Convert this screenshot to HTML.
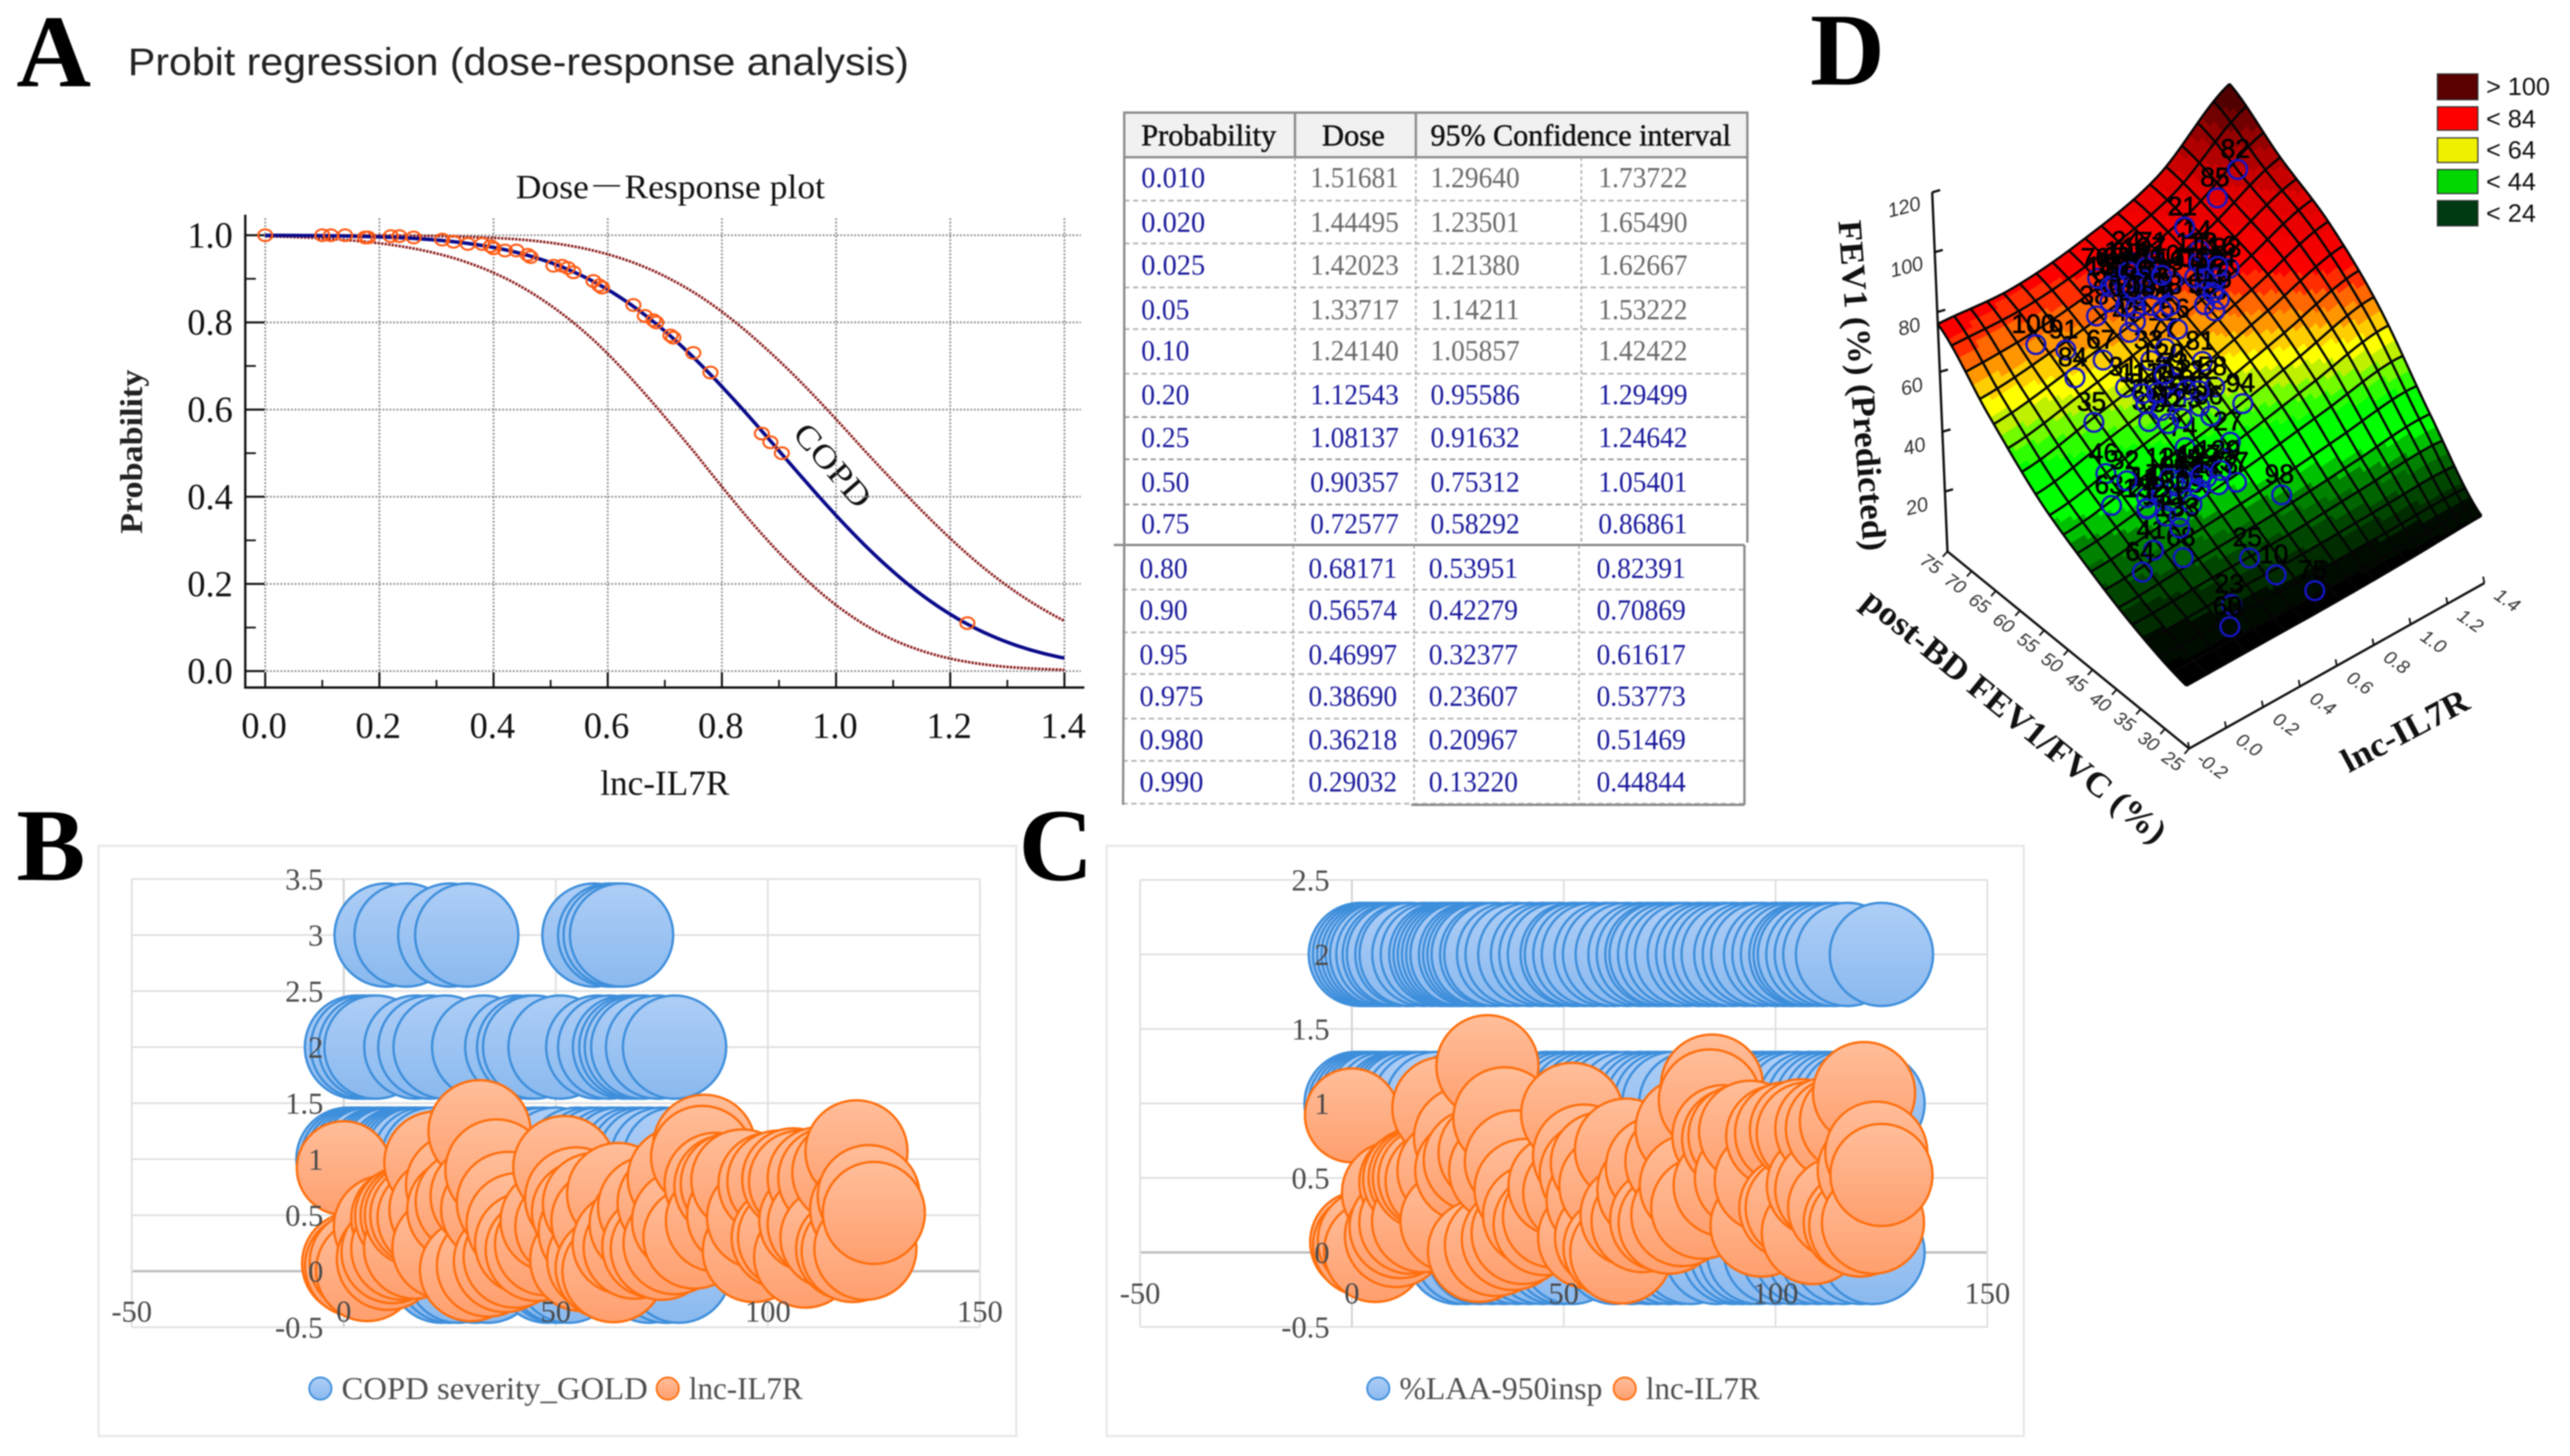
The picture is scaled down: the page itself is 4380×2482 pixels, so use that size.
<!DOCTYPE html>
<html lang="en">
<head>
<meta charset="utf-8">
<title>COPD lnc-IL7R composite figure</title>
<style>
html,body{margin:0;padding:0;background:#fff;}
#figure{display:block;width:4380px;height:2482px;filter:blur(1px);}
text{font-family:"Liberation Serif","Noto Serif CJK SC",serif;}
.sans{font-family:"Liberation Sans","DejaVu Sans",sans-serif;}
</style>
</head>
<body>
<svg id="figure" xmlns="http://www.w3.org/2000/svg" width="4380" height="2482" viewBox="0 0 4380 2482">
  <defs>
    <linearGradient id="blueFill" x1="0" y1="0" x2="0" y2="1"><stop offset="0" stop-color="#aeceF6"/><stop offset="1" stop-color="#8ab9ef"/></linearGradient>
    <linearGradient id="orangeFill" x1="0" y1="0" x2="0" y2="1"><stop offset="0" stop-color="#ffbe9a"/><stop offset="1" stop-color="#ff9f6e"/></linearGradient>
    <clipPath id="doseClip"><rect x="418" y="366" width="1396" height="806"/></clipPath>
  </defs>
  <rect width="4380" height="2482" fill="#fff"/>

  <text x="28" y="147" font-size="176" font-weight="bold" fill="#000">A</text>
  <text x="28" y="1500" font-size="176" font-weight="bold" fill="#000">B</text>
  <text x="1736" y="1500" font-size="176" font-weight="bold" fill="#000">C</text>
  <text x="3085" y="144" font-size="176" font-weight="bold" fill="#000">D</text>
  <text class="sans" x="218" y="128" font-size="66" fill="#222" textLength="1331" lengthAdjust="spacingAndGlyphs">Probit regression (dose-response analysis)</text>

  <g id="doseChart">
    <text x="879" y="338" font-size="58" fill="#111" textLength="527" lengthAdjust="spacingAndGlyphs">Dose－Response plot</text>
    <text transform="translate(242 770) rotate(-90)" text-anchor="middle" font-size="54" font-weight="bold" fill="#222" textLength="280" lengthAdjust="spacingAndGlyphs">Probability</text>
    <text x="1023" y="1355" font-size="60" fill="#111" textLength="220" lengthAdjust="spacingAndGlyphs">lnc-IL7R</text>
    <text transform="translate(1349 741) rotate(49)" y="0" font-size="56" fill="#111" textLength="171" lengthAdjust="spacingAndGlyphs">COPD</text>
  </g>

  <g id="doseTable"></g>

  <g id="bubbleB"></g>
  <g id="bubbleC"></g>

  <g id="surfaceChart">
    <text transform="translate(3133 377) rotate(85.6)" font-size="58" font-weight="bold" fill="#111" textLength="565" lengthAdjust="spacingAndGlyphs">FEV1 (%) (Predicted)</text>
    <text transform="translate(3170 1030) rotate(39.2)" font-size="58" font-weight="bold" fill="#111" textLength="649" lengthAdjust="spacingAndGlyphs">post-BD FEV1/FVC (%)</text>
    <text transform="translate(4003 1318) rotate(-28)" font-size="58" font-weight="bold" fill="#111" textLength="237" lengthAdjust="spacingAndGlyphs">lnc-IL7R</text>
  </g>

  <g>
    <rect x="4154" y="126" width="69" height="44" fill="#5a0000" stroke="#333" stroke-width="2"/>
    <rect x="4154" y="182" width="69" height="40" fill="#ff0000" stroke="#333" stroke-width="2"/>
    <rect x="4154" y="235" width="69" height="42" fill="#eef000" stroke="#333" stroke-width="2"/>
    <rect x="4154" y="289" width="69" height="41" fill="#00d800" stroke="#333" stroke-width="2"/>
    <rect x="4154" y="342" width="69" height="43" fill="#003a12" stroke="#333" stroke-width="2"/>
    <text class="sans" x="4237" y="162" font-size="43" fill="#111">&gt; 100</text>
    <text class="sans" x="4237" y="217" font-size="43" fill="#111">&lt; 84</text>
    <text class="sans" x="4237" y="270" font-size="43" fill="#111">&lt; 64</text>
    <text class="sans" x="4237" y="324" font-size="43" fill="#111">&lt; 44</text>
    <text class="sans" x="4237" y="378" font-size="43" fill="#111">&lt; 24</text>
  </g>
</svg>

<script>
/* ---------- Panel A + table data ---------- */
const tableProbabilityLabels = ["0.010","0.020","0.025","0.05","0.10","0.20","0.25","0.50","0.75","0.80","0.90","0.95","0.975","0.980","0.990"];
const tableDose  = [1.51681,1.44495,1.42023,1.33717,1.24140,1.12543,1.08137,0.90357,0.72577,0.68171,0.56574,0.46997,0.38690,0.36218,0.29032];
const tableLower = [1.29640,1.23501,1.21380,1.14211,1.05857,0.95586,0.91632,0.75312,0.58292,0.53951,0.42279,0.32377,0.23607,0.20967,0.13220];
const tableUpper = [1.73722,1.65490,1.62667,1.53222,1.42422,1.29499,1.24642,1.05401,0.86861,0.82391,0.70869,0.61617,0.53773,0.51469,0.44844];
const meanHeadDose  = [0,0.1,0.2];
const meanHeadProb  = [0.9997,0.9989,0.9962];
const lowerHeadDose = [0,0.1];
const lowerHeadProb = [0.9976,0.9929];
const upperHeadDose = [0,0.2,0.35];
const upperHeadProb = [0.99997,0.9995,0.9965];
const lowerTailDose = [1.4];
const lowerTailProb = [0.003];
const sampleDose = [0,0.1,0.115,0.14,0.175,0.18,0.22,0.235,0.26,0.31,0.33,0.355,0.38,0.395,0.40,0.42,0.44,0.46,0.465,0.505,0.52,0.53,0.54,0.575,0.585,0.59,0.645,0.665,0.68,0.685,0.71,0.715,0.75,0.78,0.87,0.885,0.905,1.23];
const sampleProb = [1,1,1,1,0.995,0.995,0.998,0.998,0.995,0.99,0.985,0.98,0.98,0.975,0.97,0.965,0.965,0.955,0.95,0.93,0.93,0.925,0.915,0.895,0.885,0.88,0.84,0.815,0.805,0.8,0.77,0.765,0.73,0.685,0.545,0.525,0.5,0.11];
const doseXTicks = [0,0.2,0.4,0.6,0.8,1.0,1.2,1.4];
const doseYTicks = [0,0.2,0.4,0.6,0.8,1.0];
const doseMinorXTicks = [0.1,0.3,0.5,0.7,0.9,1.1,1.3];
const doseMinorYTicks = [0.1,0.3,0.5,0.7,0.9];

/* ---------- Panels B + C data ---------- */
const orangeX = [0,2.2,2.9,4,5.5,9.7,10.4,11.5,13.8,13.8,14.7,16,16.8,17,18.3,20,21.6,22.8,23.5,26.7,27,29,30,32,32.5,34,35,36,38,38.7,40.3,41,43,45.5,47.7,49,52,52.5,54.8,56,56.4,58,59,60,61,62,63.6,64.7,66,68.6,70,72,73,75,76.6,78,79,80,82.7,85,84.5,87.7,88,90,91.5,93,94,96.7,97.7,100.4,102.5,103.5,105,106,107.6,108.8,110,112,112,114.5,115,117.8,118.7,120,120.9,122,123,123.8,125];
const orangeY = [0.92,0.07,0.05,0.08,0.01,0.40,0.11,0.17,0.47,0.2,0.49,0.5,0.21,0.5,0.5,0.48,0.97,0.55,0.21,0.77,0.55,0.62,0.01,1.25,0.67,0.05,0.55,0.9,0.09,0.61,0.13,0.42,0.25,0.19,0.24,0.45,0.93,0.4,0.65,0.1,0.53,0.35,0.6,0.1,0.45,0.03,0,0.69,0.25,0.21,0.42,0.57,0.22,0.2,0.61,0.25,0.83,0.45,0.3,1.12,1.02,0.78,0.45,0.76,0.78,0.5,0.81,0.18,0.48,0.78,0.8,0.3,0.3,0.82,0.8,0.13,0.45,0.83,0.42,0.83,0.3,0.88,0.2,0.18,1.07,0.55,0.2,0.67,0.52];

const goldX = [10,14.7,25,29,59,62.7,64,65.5, 3,4.4,6.2,7.6,17,20.3,23.9,33,40.8,43.6,45,51,59.9,62.7,66.2,67.7,69,70.5,74,78, 1,2,3,4,5,6,8,9,10,11,13,14,15,16,17,19,21,25,30,38,42,45,47,50,55,58,60,63,65,68,70,72,75,78, 23,25,27,31,34,48,50,51,53,72,76,79];
const goldY = [3,3,3,3,3,3,3,3, 2,2,2,2,2,2,2,2,2,2,2,2,2,2,2,2,2,2,2,2, 1,1,1,1,1,1,1,1,1,1,1,1,1,1,1,1,1,1,1,1,1,1,1,1,1,1,1,1,1,1,1,1,1,1, 0,0,0,0,0,0,0,0,0,0,0,0];
const laaX = [2,3,4,5,6,7,8.5,10,11,13,14,17,19,21,22,23,24,25,26,28,29,30,31,33,34,37,39,42,45,47,49,52,53,55,57,60,62,65,68,70,72,73,75,77,79,82,84,86,88,90,93,95,97,100,102,104,106,107,108,110,112,114,117,125, 1,2,3,4,5,6,8,10,11,12,13,15,17,20,25,35,46,48,50,52,54,56,58,60,62,65,68,70,72,74,76,80,85,90,95,97,99,101,103,105,108,110,112,114,116,118,120,122,123, 25,27,30,33,36,39,42,45,48,50,52,62,66,70,72,75,78,80,86,90,92,94,96,100,104,107,110,113,116,120,123];
const laaY = [2,2,2,2,2,2,2,2,2,2,2,2,2,2,2,2,2,2,2,2,2,2,2,2,2,2,2,2,2,2,2,2,2,2,2,2,2,2,2,2,2,2,2,2,2,2,2,2,2,2,2,2,2,2,2,2,2,2,2,2,2,2,2,2, 1,1,1,1,1,1,1,1,1,1,1,1,1,1,1,1,1,1,1,1,1,1,1,1,1,1,1,1,1,1,1,1,1,1,1,1,1,1,1,1,1,1,1,1,1,1,1,1,1, 0,0,0,0,0,0,0,0,0,0,0,0,0,0,0,0,0,0,0,0,0,0,0,0,0,0,0,0,0,0,0];
const bubbleXTicks = [-50,0,50,100,150];
const goldYTicks = [-0.5,0,0.5,1,1.5,2,2.5,3,3.5];
const laaYTicks = [-0.5,0,0.5,1,1.5,2,2.5];

/* ---------- Panel D data ---------- */
const lncLevels = [-0.2,0.2,0.6,1.0,1.4];
const fvcLevels = [75,65,55,45,35,25];
const fevRow75 = [76,74,77,84,101];
const fevRow65 = [59,64,70,78,90];
const fevRow55 = [44,52,60,70,81];
const fevRow45 = [34,40,47,56,66];
const fevRow35 = [26,29,32,37,43];
const fevRow25 = [21,21,21,21.5,22.5];
const zTicks = [20,40,60,80,100,120];
const fvcTicks = [75,70,65,60,55,50,45,40,35,30,25];
const lncTicks = [-0.2,0,0.2,0.4,0.6,0.8,1.0,1.2,1.4];
const pointLnc = [0.14,0.236,0.428,0.201,0.342,0.165,0.091,0.037,0.153,0.074,-0.02,0.246,0.16,0.425,0.42,0.357,0.489,0.568,0.662,0.585,0.596,0.723,0.677,0.505,0.5,0.582,0.668,0.51,0.677,0.761,0.768,0.862,0.98,0.933,0.947,1.114,1.236,0.663,0.833,0.531,0.671,0.403,0.46,0.565,0.213,0.144,0.356,0.319,0.606,0.529,0.606,0.574,0.551,0.66,0.707,0.7,0.546,0.885,0.875,0.815,0.388,0.425,0.538,0.369,0.434,0.307,0.175,0.236,0.146,0.55,0.6,0.62,0.65,0.68,0.7,0.72,0.58,0.64,0.75,0.85,0.88,0.9,0.92,0.87,0.95,0.4,0.45,0.5,0.52,0.56,0.6,0.48,0.3,0.34,0.38,0.42,0.46,0.5,0.25,0.2,0.15,0.22];
const pointFvc = [67.9,65.4,66.3,62.3,61.8,57.2,52.1,49,46.1,41.9,40.7,43,39.1,48.4,51.6,53.2,53.6,50.7,51.1,49.1,45.6,47.7,54.1,58.2,62.3,58.1,58.8,66.6,69,66.8,63.5,60.4,59.8,64.1,67.6,67.1,67.4,61.7,57.3,42,38.1,34.7,31.5,27.6,31.3,29.1,57.8,43.2,65.1,69.8,68.1,67.9,65,65.1,63.7,61.5,62.8,59.3,57.9,58.7,54.9,53.2,54.4,45.1,44.4,45.8,47,46.2,49.9,68,67,66,68,66,64,67,64,63,65,62,61,63,60,59,61,56,55,53,56,53,52,51,47,46,44,45,43,44,45,44,46,42];
const pointIds = [100,91,38,84,67,35,46,63,29,41,64,17,68,74,52,39,72,89,58,86,27,94,81,33,47,77,56,88,24,71,19,44,83,14,21,85,82,66,48,37,98,25,10,75,23,60,31,59,12,76,93,53,69,20,42,78,55,57,16,90,50,36,73,28,13,96,11,40,32,101,102,103,104,105,106,107,108,109,110,111,112,113,114,115,116,117,118,119,120,121,122,123,124,125,126,127,128,129,130,131,132,133];

/* ---------- Shared helpers ---------- */
const SVGNS = "http://www.w3.org/2000/svg";
function make(tag, attrs, parent){
  const el = document.createElementNS(SVGNS, tag);
  for (const k in attrs) el.setAttribute(k, attrs[k]);
  parent.appendChild(el);
  return el;
}
function makeText(str, attrs, parent){
  const el = make('text', attrs, parent);
  el.textContent = str;
  return el;
}
function normCdf(z){
  const t = 1 / (1 + 0.2316419 * Math.abs(z));
  const d = 0.3989423 * Math.exp(-z * z / 2);
  const p = d * t * (0.3193815 + t * (-0.3565638 + t * (1.781478 + t * (-1.821256 + t * 1.330274))));
  return z > 0 ? 1 - p : p;
}
function normInv(p){
  let lo = -6, hi = 6;
  for (let i = 0; i < 50; i++){
    const mid = (lo + hi) / 2;
    if (normCdf(mid) < p) lo = mid; else hi = mid;
  }
  return (lo + hi) / 2;
}

/* ---------- Panel A chart ---------- */
(function(){
  const g = document.getElementById('doseChart');
  const ax = x => 452 + x * 972.9;
  const ay = p => 1144 - p * 743;
  const probs = tableProbabilityLabels.map(parseFloat);

  doseXTicks.forEach(t => {
    const l = make('line', {x1:ax(t), x2:ax(t), y1:372, y2:1172, stroke:'#8a8a8a', 'stroke-width':3, 'stroke-dasharray':'3 3'}, g);
    
    
  });
  doseYTicks.forEach(t => {
    const l = make('line', {x1:418, x2:1842, y1:ay(t), y2:ay(t), stroke:'#8a8a8a', 'stroke-width':3, 'stroke-dasharray':'3 3'}, g);
    
    
  });

  const spineY = make('line', {x1:418, x2:418, y1:366, y2:1172, stroke:'#111', 'stroke-width':4}, g);
  
  
  const spineX = make('line', {x1:416, x2:1848, y1:1172, y2:1172, stroke:'#111', 'stroke-width':4}, g);
  
  

  doseXTicks.forEach(t => {
    const l = make('line', {x1:ax(t), x2:ax(t), y1:1172, y2:1146, stroke:'#111', 'stroke-width':3.5}, g);
    
    
    const s = makeText(t.toFixed(1), {x:ax(t) - 2, y:1258, 'text-anchor':'middle', 'font-size':62, fill:'#111'}, g);
    
    
  });
  doseMinorXTicks.forEach(t => {
    const l = make('line', {x1:ax(t), x2:ax(t), y1:1172, y2:1159, stroke:'#111', 'stroke-width':3}, g);
    
    
  });
  doseYTicks.forEach(t => {
    const l = make('line', {x1:418, x2:451, y1:ay(t), y2:ay(t), stroke:'#111', 'stroke-width':3.5}, g);
    
    
    const s = makeText(t.toFixed(1), {x:358, y:ay(t) + 21, 'text-anchor':'middle', 'font-size':62, fill:'#111'}, g);
    
    
  });
  doseMinorYTicks.forEach(t => {
    const l = make('line', {x1:418, x2:436, y1:ay(t), y2:ay(t), stroke:'#111', 'stroke-width':3}, g);
    
    
  });

  /* curve through the table knots: straight segments in probit space render as the smooth sigmoid */
  function series(headD, headP, d, p, tailD, tailP){
    const knots = [];
    headD.forEach((v, i) => knots.push([v, normInv(headP[i])]));
    d.forEach((v, i) => knots.push([v, normInv(p[i])]));
    tailD.forEach((v, i) => knots.push([v, normInv(tailP[i])]));
    knots.sort((a, b) => a[0] - b[0]);
    let k = 0, path = '';
    for (let n = 0; n <= 140; n++){
      const x = n / 100;
      while (k < knots.length - 2 && x > knots[k + 1][0]) k++;
      const t = (x - knots[k][0]) / (knots[k + 1][0] - knots[k][0]);
      const z = knots[k][1] + (knots[k + 1][1] - knots[k][1]) * t;
      path += (n ? ' L' : 'M') + ax(x).toFixed(1) + ' ' + ay(normCdf(z)).toFixed(1);
    }
    return path;
  }
  const keepLow = tableLower.map(v => v < 1.4);
  const lowerCurve = make('path', {d:series(lowerHeadDose, lowerHeadProb, tableLower.filter((_, i) => keepLow[i]), probs.filter((_, i) => keepLow[i]), lowerTailDose, lowerTailProb), fill:'none', stroke:'#8b1a1a', 'stroke-width':4.5, 'stroke-dasharray':'4 2', 'clip-path':'url(#doseClip)'}, g);
  
  
  const upperCurve = make('path', {d:series(upperHeadDose, upperHeadProb, tableUpper, probs, [], []), fill:'none', stroke:'#8b1a1a', 'stroke-width':4.5, 'stroke-dasharray':'4 2', 'clip-path':'url(#doseClip)'}, g);
  
  
  const meanCurve = make('path', {d:series(meanHeadDose, meanHeadProb, tableDose, probs, [], []), fill:'none', stroke:'#0a0a8a', 'stroke-width':6, 'clip-path':'url(#doseClip)'}, g);
  
  

  sampleDose.forEach((d, i) => {
    const c = make('ellipse', {cx:ax(d), cy:ay(sampleProb[i]), rx:12, ry:10, fill:'none', stroke:'#ff5a14', 'stroke-width':3.5}, g);
    
    
  });
})();

/* ---------- Table ---------- */
(function(){
  const g = document.getElementById('doseTable');
  const rowCenters = [302,378,451,527,597,672,745,821,892,968,1039,1115,1186,1260,1332];
  const rowLines = [342,415,490,561,637,711,783,860,929,1005,1078,1149,1225,1297,1370];
  const cols = [1945,2233,2438,2724];

  const head = make('rect', {x:1916, y:192, width:1062, height:76, fill:'#f1f1f1', stroke:'#8c8c8c', 'stroke-width':4}, g);
  
  

  rowLines.forEach((y, i) => {
    if (i === 8) return;
    const shift = i > 8 ? -3 : 0;
    const l = make('line', {x1:1916 + shift, x2:2978 + shift * 2, y1:y, y2:y, stroke:i > 4 && i < 8 ? '#999' : '#b4b4b4', 'stroke-width':3, 'stroke-dasharray':'9 6'}, g);
    
    
  });
  [[2207,268,929],[2413,268,929],[2695,268,929],[2204,929,1370],[2410,929,1370],[2691,929,1370]].forEach(v => {
    const l = make('line', {x1:v[0], x2:v[0], y1:v[1], y2:v[2], stroke:'#a8a8a8', 'stroke-width':2.5, 'stroke-dasharray':'6 5'}, g);
    
    
  });
  [[2207,192,268],[2413,192,268]].forEach(v => {
    const l = make('line', {x1:v[0], x2:v[0], y1:v[1], y2:v[2], stroke:'#8c8c8c', 'stroke-width':4}, g);
    
    
  });
  [[1916,192,1916,929],[2978,192,2978,925],[1898,929,2973,929],[2973,929,2973,1372],[1916,929,1914,1372],[2405,1372,2973,1372]].forEach(v => {
    const l = make('line', {x1:v[0], y1:v[1], x2:v[2], y2:v[3], stroke:'#8c8c8c', 'stroke-width':4}, g);
    
    
  });

  const h1 = makeText('Probability', {x:1945, y:248, 'font-size':52, fill:'#111', stroke:'#111', 'stroke-width':0.8, textLength:230, lengthAdjust:'spacingAndGlyphs'}, g);
  
  
  const h2 = makeText('Dose', {x:2253, y:248, 'font-size':52, fill:'#111', stroke:'#111', 'stroke-width':0.8, textLength:107, lengthAdjust:'spacingAndGlyphs'}, g);
  
  
  const h3 = makeText('95% Confidence interval', {x:2438, y:248, 'font-size':52, fill:'#111', stroke:'#111', 'stroke-width':0.8, textLength:512, lengthAdjust:'spacingAndGlyphs'}, g);
  
  

  tableProbabilityLabels.forEach((label, i) => {
    const y = rowCenters[i] + 17;
    const shift = i > 8 ? -3 : 0;
    const numFill = i < 5 ? '#6a6a6a' : '#1a1a9c';
    const a = makeText(label, {x:cols[0] + shift, y:y, 'font-size':50, fill:'#1a1a9c', textLength:label.length === 5 ? 109 : 82, lengthAdjust:'spacingAndGlyphs'}, g);
    
    
    const b = makeText(tableDose[i].toFixed(5), {x:cols[1] + shift, y:y, 'font-size':50, fill:numFill, textLength:151, lengthAdjust:'spacingAndGlyphs'}, g);
    
    
    const c = makeText(tableLower[i].toFixed(5), {x:cols[2] + shift, y:y, 'font-size':50, fill:numFill, textLength:152, lengthAdjust:'spacingAndGlyphs'}, g);
    
    
    const d = makeText(tableUpper[i].toFixed(5), {x:cols[3] + shift, y:y, 'font-size':50, fill:numFill, textLength:152, lengthAdjust:'spacingAndGlyphs'}, g);
    
    
  });
})();

/* ---------- Panels B & C ---------- */
function drawBubbleChart(cfg){
  const g = document.getElementById(cfg.id);
  const sx = v => cfg.x0 + (v + 50) * (cfg.x1 - cfg.x0) / 200;
  const sy = v => cfg.yZero - v * cfg.yUnit;

  const card = make('rect', {x:cfg.cardX, y:1442, width:cfg.cardW, height:1006, fill:'#fff', stroke:'#e9e9e9', 'stroke-width':4}, g);
  
  

  cfg.yTicks.forEach(t => {
    const l = make('line', {x1:cfg.x0, x2:cfg.x1, y1:sy(t), y2:sy(t), stroke:t === 0 ? '#bdbdbd' : '#e0e0e0', 'stroke-width':t === 0 ? 4 : 3}, g);
    
    
  });
  bubbleXTicks.forEach(t => {
    const l = make('line', {x1:sx(t), x2:sx(t), y1:sy(cfg.yTicks[cfg.yTicks.length - 1]), y2:sy(-0.5), stroke:t === 0 ? '#cfcfcf' : '#e0e0e0', 'stroke-width':3}, g);
    
    
  });

  cfg.blueX.forEach((x, i) => {
    const c = make('circle', {cx:sx(x), cy:sy(cfg.blueY[i]), r:88, fill:'url(#blueFill)', stroke:'#3d8edb', 'stroke-width':4}, g);
    
    
  });
  orangeX.forEach((x, i) => {
    const c = make('circle', {cx:sx(x), cy:sy(orangeY[i]), r:i === 0 ? 80 : 87, fill:'url(#orangeFill)', stroke:'#ff6f0e', 'stroke-width':4}, g);
    
    
  });

  cfg.yTicks.forEach(t => {
    const s = makeText(String(t), {x:cfg.yLabelX, y:sy(t) + 18, 'text-anchor':'end', 'font-size':52, fill:'#4a4a4a'}, g);
    
    
  });
  bubbleXTicks.forEach(t => {
    const s = makeText(String(t), {x:sx(t), y:cfg.xLabelY + 18, 'text-anchor':'middle', 'font-size':52, fill:'#4a4a4a'}, g);
    
    
  });

  const d1 = make('circle', {cx:cfg.dot1, cy:2367, r:19, fill:'url(#blueFill)', stroke:'#3d8edb', 'stroke-width':3}, g);
  
  
  const t1 = makeText(cfg.label, {x:cfg.dot1 + 36, y:2385, 'font-size':54, fill:'#4f4f4f', textLength:cfg.labelW, lengthAdjust:'spacingAndGlyphs'}, g);
  
  
  const d2 = make('circle', {cx:cfg.dot2, cy:2367, r:19, fill:'url(#orangeFill)', stroke:'#ff6f0e', 'stroke-width':3}, g);
  
  
  const t2 = makeText('lnc-IL7R', {x:cfg.dot2 + 36, y:2385, 'font-size':54, fill:'#4f4f4f', textLength:194, lengthAdjust:'spacingAndGlyphs'}, g);
  
  
}
drawBubbleChart({id:'bubbleB', cardX:168, cardW:1564, x0:224.5, x1:1670, yZero:2167, yUnit:191, yTicks:goldYTicks, blueX:goldX, blueY:goldY, blueName:'copd-severity-bubble', yLabelX:551, xLabelY:2235, dot1:546, dot2:1138, label:'COPD severity_GOLD', labelW:522});
drawBubbleChart({id:'bubbleC', cardX:1886, cardW:1563, x0:1943, x1:3387, yZero:2135, yUnit:254, yTicks:laaYTicks, blueX:laaX, blueY:laaY, blueName:'laa-950-bubble', yLabelX:2266, xLabelY:2204, dot1:2349, dot2:2769, label:'%LAA-950insp', labelW:346});

/* ---------- Panel D ---------- */
(function(){
  const g = document.getElementById('surfaceChart');
  const fevRows = [fevRow75, fevRow65, fevRow55, fevRow45, fevRow35, fevRow25];
  const lncToU = l => (l + 0.2) / 1.6;
  const fvcToV = f => (75 - f) / 50;
  function project(u, v, z){
    return [3319 + u * 503 + v * 412 - 0.22 * z, 940 - u * 282 + v * 336 - 5.1 * z];
  }
  function cubic(a, b, c, d, t){
    return b + 0.5 * t * (c - a + t * (2 * a - 5 * b + 4 * c - d + t * (3 * (b - c) + d - a)));
  }
  function surfaceZ(u, v){
    const fx = u * (lncLevels.length - 1), fy = v * (fvcLevels.length - 1);
    const ix = Math.min(Math.floor(fx), lncLevels.length - 2), iy = Math.min(Math.floor(fy), fvcLevels.length - 2);
    const tx = fx - ix, ty = fy - iy;
    const col = [];
    for (let r = -1; r <= 2; r++){
      const row = fevRows[Math.max(0, Math.min(fvcLevels.length - 1, iy + r))];
      const p = k => row[Math.max(0, Math.min(lncLevels.length - 1, ix + k))];
      col.push(cubic(p(-1), p(0), p(1), p(2), tx));
    }
    return cubic(col[0], col[1], col[2], col[3], ty);
  }
  const colorZ = [23,26,30,36,42,49,53,57,60,64,67,70,74,84,92,100,110];
  const colorR = [0,0,0,0,0,0,90,190,255,255,255,255,255,225,160,70,40];
  const colorG = [0,35,70,130,255,255,255,240,255,190,130,90,0,0,0,0,0];
  const colorB = [0,0,0,0,0,0,0,0,0,0,0,0,0,0,0,0,0];
  function colorFor(z){
    const q = Math.round(z / 3) * 3;
    let i = 0;
    while (i < colorZ.length - 2 && q > colorZ[i + 1]) i++;
    const t = Math.max(0, Math.min(1, (q - colorZ[i]) / (colorZ[i + 1] - colorZ[i])));
    const mix = arr => Math.round(arr[i] + (arr[i + 1] - arr[i]) * t);
    return 'rgb(' + mix(colorR) + ',' + mix(colorG) + ',' + mix(colorB) + ')';
  }

  /* axes */
  const axisPts = [[3319,940,3293,328,'z-axis-line'],[3319,940,3731,1276,'fvc-axis-line'],[3731,1276,4234,994,'lnc-axis-line']];
  axisPts.forEach(a => {
    const l = make('line', {x1:a[0], y1:a[1], x2:a[2], y2:a[3], stroke:'#111', 'stroke-width':4}, g);
    
    
  });
  zTicks.forEach(z => {
    const p = project(0, 0, z);
    const l = make('line', {x1:p[0], y1:p[1], x2:p[0] + 14, y2:p[1] - 4, stroke:'#111', 'stroke-width':4}, g);
    
    
    const s = makeText(String(z), {transform:'translate(' + (p[0] - 45) + ' ' + (p[1] + 36) + ') rotate(-14)', 'text-anchor':'middle', 'font-size':34, 'font-style':'italic', fill:'#333'}, g);
    s.setAttribute('class', 'sans');
    
    
  });
  fvcTicks.forEach(f => {
    const p = project(0, fvcToV(f), 0);
    const l = make('line', {x1:p[0], y1:p[1], x2:p[0] - 8, y2:p[1] + 9, stroke:'#111', 'stroke-width':3}, g);
    
    
    const s = makeText(String(f), {transform:'translate(' + (p[0] - 34) + ' ' + (p[1] + 30) + ') rotate(35)', 'text-anchor':'middle', 'font-size':32, 'font-style':'italic', fill:'#333'}, g);
    s.setAttribute('class', 'sans');
    
    
  });
  lncTicks.forEach(v => {
    const p = project(lncToU(v), 1, 0);
    const l = make('line', {x1:p[0], y1:p[1], x2:p[0] - 2, y2:p[1] - 11, stroke:'#111', 'stroke-width':3}, g);
    
    
    const s = makeText(v.toFixed(1), {transform:'translate(' + (p[0] + 33) + ' ' + (p[1] + 38) + ') rotate(35)', 'text-anchor':'middle', 'font-size':32, 'font-style':'italic', fill:'#333'}, g);
    s.setAttribute('class', 'sans');
    
    
  });

  /* surface mesh */
  const cellsU = 18, cellsV = 18, sub = 4;
  const grid = [];
  for (let i = 0; i <= cellsU * sub; i++){
    const row = [];
    for (let j = 0; j <= cellsV * sub; j++){
      const t = i / (cellsU * sub), s = j / (cellsV * sub);
      const u = 1 - Math.pow(1 - t, 1 + 0.25 * s);
      const v = 1 - Math.pow(1 - s, 1 + 0.25 * t);
      const z = surfaceZ(u, v);
      const p = project(u, v, z);
      row.push([Math.round(p[0] * 10) / 10, Math.round(p[1] * 10) / 10, z]);
    }
    grid.push(row);
  }
  const patchGroup = make('g', {}, g);
  
  
  for (let i = 0; i < cellsU * sub; i++){
    for (let j = 0; j < cellsV * sub; j++){
      const a = grid[i][j], b = grid[i + 1][j], c = grid[i + 1][j + 1], d = grid[i][j + 1];
      const col = colorFor((a[2] + b[2] + c[2] + d[2]) / 4);
      const poly = make('polygon', {points:a[0] + ',' + a[1] + ' ' + b[0] + ',' + b[1] + ' ' + c[0] + ',' + c[1] + ' ' + d[0] + ',' + d[1], fill:col, stroke:col, 'stroke-width':1.2}, patchGroup);
      
      
    }
  }
  const meshGroup = make('g', {fill:'none', stroke:'#050505', 'stroke-width':4, 'stroke-linejoin':'round'}, g);
  
  
  for (let i = 0; i <= cellsU; i++){
    const pts = [];
    for (let j = 0; j <= cellsV * sub; j++) pts.push(grid[i * sub][j][0] + ',' + grid[i * sub][j][1]);
    const l = make('polyline', {points:pts.join(' ')}, meshGroup);
    
    
  }
  for (let j = 0; j <= cellsV; j++){
    const pts = [];
    for (let i = 0; i <= cellsU * sub; i++) pts.push(grid[i][j * sub][0] + ',' + grid[i][j * sub][1]);
    const l = make('polyline', {points:pts.join(' ')}, meshGroup);
    
    
  }

  /* scatter points */
  pointLnc.forEach((lnc, i) => {
    const u = lncToU(lnc), v = fvcToV(pointFvc[i]);
    const p = project(u, v, surfaceZ(u, v));
    const s = makeText(String(pointIds[i]), {x:p[0] - 4, y:p[1] - 20, 'text-anchor':'middle', 'font-size':45, fill:'#000', stroke:'#000', 'stroke-width':1}, g);
    s.setAttribute('class', 'sans');
    
    
    const c = make('circle', {cx:p[0], cy:p[1], r:16, fill:'none', stroke:'#1414c8', 'stroke-width':4}, g);
    
    
  });
})();
</script>
</body>
</html>
